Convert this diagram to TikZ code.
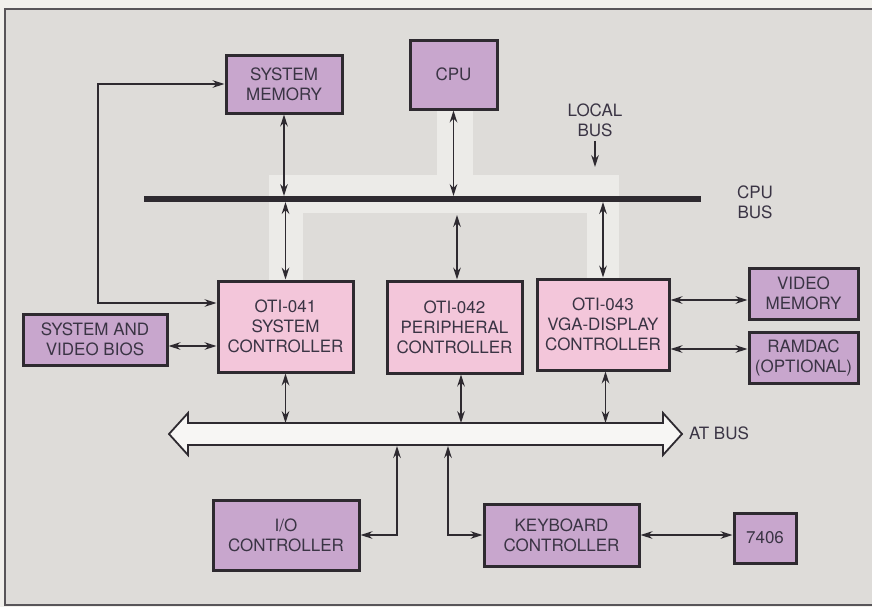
\documentclass[tikz,border=0pt]{standalone}
\usepackage{fontspec}
\setmainfont{TeX Gyre Heros}
\usetikzlibrary{arrows.meta}
\definecolor{paper}{HTML}{F1F0EC}
\definecolor{bgc}{HTML}{DEDCD9}
\definecolor{bandc}{HTML}{ECEBE8}
\definecolor{purpc}{HTML}{C8A6CD}
\definecolor{pinkc}{HTML}{F3C6DA}
\definecolor{linec}{HTML}{2E2A30}
\definecolor{txtc}{HTML}{3A3444}
\newcommand\lbl{\fontsize{8.5}{10}\selectfont}
\begin{document}
\begin{tikzpicture}[x=0.5pt,y=-0.5pt,
  blk/.style={draw=linec,line width=1.5pt,align=center,inner sep=0pt,text=txtc,font=\lbl},
  purp/.style={blk,fill=purpc},
  pink/.style={blk,fill=pinkc},
  tag/.style={align=center,inner sep=0pt,text=txtc,font=\lbl},
  dbl/.style={{Stealth[length=6pt,width=3.8pt]}-{Stealth[length=6pt,width=3.8pt]},line width=0.75pt,draw=linec},
  sgl/.style={-{Stealth[length=6pt,width=3.8pt]},line width=0.75pt,draw=linec}]
\useasboundingbox (0,0) rectangle (872,607);
\fill[paper] (0,0) rectangle (872,607);
\draw[fill=bgc,draw=linec!80,line width=0.8pt] (5,9) rectangle (890,605);
% local bus band
\fill[bandc] (269,175) rectangle (619,281);
\fill[bgc] (303,213) rectangle (587,281);
\fill[bandc] (437,109) rectangle (473,176);
% cpu bus
\coordinate (cpubusW) at (144,199);
\coordinate (cpubusE) at (701,199);
\coordinate (cpubusN) at (0,196);
\coordinate (cpubusS) at (0,202);
\coordinate (bandin) at (0,215);
\draw[line width=2.6pt,draw=linec] (cpubusW) -- (cpubusE);
% at bus
\coordinate (atbusN) at (0,423);
\coordinate (atbusS) at (0,445);
\draw[fill=paper!60!white,draw=linec,line width=0.9pt] (169,434) -- (188,413) -- (188,423) -- (663,423) -- (663,413) -- (682,434)
  -- (663,455) -- (663,445) -- (188,445) -- (188,455) -- cycle;
\node[purp,minimum width=58pt,minimum height=29pt] (sysmem) at (284,84) {SYSTEM\\MEMORY};
\node[purp,minimum width=43.5pt,minimum height=34.5pt] (cpu) at (453.5,74.5) {CPU};
\node[pink,minimum width=67.5pt,minimum height=45.5pt] (oti41) at (285.5,326.5) {OTI-041\\SYSTEM\\CONTROLLER};
\node[pink,minimum width=67.5pt,minimum height=46pt] (oti42) at (454.5,327) {OTI-042\\PERIPHERAL\\CONTROLLER};
\node[pink,minimum width=66pt,minimum height=45.5pt] (oti43) at (603,324.5) {OTI-043\\VGA-DISPLAY\\CONTROLLER};
\node[purp,minimum width=54.5pt,minimum height=25.5pt] (vidmem) at (803.5,293.5) {VIDEO\\MEMORY};
\node[purp,minimum width=54.5pt,minimum height=25.5pt] (ramdac) at (803.5,357.5) {RAMDAC\\(OPTIONAL)};
\node[purp,minimum width=72pt,minimum height=25.5pt] (bios) at (95,339.5) {SYSTEM AND\\VIDEO BIOS};
\node[purp,minimum width=73pt,minimum height=35pt] (io) at (286,535) {I/O\\CONTROLLER};
\node[purp,minimum width=77.5pt,minimum height=31pt] (kbd) at (561.5,535) {KEYBOARD\\CONTROLLER};
\node[purp,minimum width=31pt,minimum height=25pt] (ic7406) at (765,538) {7406};
\node[tag] (localbus) at (595,120) {LOCAL\\BUS};
\node[tag] (cpubuslbl) at (755,202) {CPU\\BUS};
\node[tag] (atbuslbl) at (719,433) {AT BUS};
\coordinate (localtip) at (597,167);
\coordinate (loopx) at (98,0);
\coordinate (sc41in) at ([yshift=11.75pt]oti41.west);
\coordinate (iotap) at (397,446);
\coordinate (kbtap) at (448,446);
\draw[sgl] ([yshift=-2pt]localbus.south) -- (localbus.south |- localtip);
\draw[dbl] (sysmem.south) -- (sysmem.south |- cpubusN);
\draw[dbl] (cpu.south) -- (cpu.south |- cpubusN);
\draw[dbl] (oti41.north) -- (oti41.north |- cpubusS);
\draw[dbl] ([xshift=1.25pt]oti42.north) -- ([xshift=1.25pt]oti42.north |- bandin);
\draw[dbl] (oti43.north) -- (oti43.north |- cpubusS);
\draw[dbl] (sysmem.west) -- (sysmem.west -| loopx) -- (loopx |- sc41in) -- (sc41in);
\draw[dbl] ([yshift=-3.25pt]bios.east) -- ([yshift=-3.25pt]bios.east -| oti41.west);
\draw[dbl] ([yshift=-3.25pt]vidmem.west) -- ([yshift=-3.25pt]vidmem.west -| oti43.east);
\draw[dbl] ([yshift=4.25pt]ramdac.west) -- ([yshift=4.25pt]ramdac.west -| oti43.east);
\draw[dbl] (oti41.south) -- (oti41.south |- atbusN);
\draw[dbl] ([xshift=3.25pt]oti42.south) -- ([xshift=3.25pt]oti42.south |- atbusN);
\draw[dbl] ([xshift=1.25pt]oti43.south) -- ([xshift=1.25pt]oti43.south |- atbusN);
\draw[dbl] (io.east) -| (iotap);
\draw[dbl] (kbtap) |- (kbd.west);
\draw[dbl] (kbd.east) -- (kbd.east -| ic7406.west);
\end{tikzpicture}
\end{document}
